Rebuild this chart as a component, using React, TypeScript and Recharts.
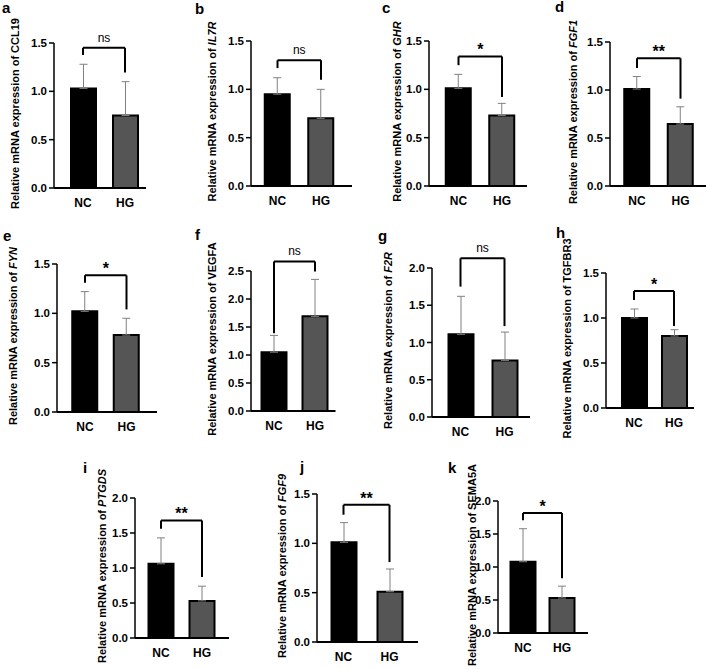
import React from "react";
import { BarChart, Bar, XAxis, YAxis, ErrorBar, Cell, ReferenceLine } from "recharts";

const FONT = '"Liberation Sans", Arial, Helvetica, sans-serif';

// panel data
const panelLetters = ["a", "b", "c", "d", "e", "f", "g", "h", "i", "j", "k"];
const genes = ["CCL19", "IL7R", "GHR", "FGF1", "FYN", "VEGFA", "F2R", "TGFBR3", "PTGDS", "FGF9", "SEMA5A"];
const geneItalic = [false, true, true, true, true, false, true, false, true, true, false];
const groups = ["NC", "HG"];
const ncMean = [1.03, 0.95, 1.01, 1.01, 1.02, 1.05, 1.11, 1.0, 1.06, 1.01, 1.08];
const hgMean = [0.75, 0.7, 0.73, 0.645, 0.78, 1.69, 0.76, 0.8, 0.53, 0.51, 0.53];
const ncSd = [0.25, 0.17, 0.145, 0.13, 0.2, 0.3, 0.51, 0.1, 0.37, 0.2, 0.5];
const hgSd = [0.35, 0.3, 0.125, 0.18, 0.17, 0.66, 0.38, 0.07, 0.21, 0.23, 0.18];
const yMax = [1.5, 1.5, 1.5, 1.5, 1.5, 2.5, 2.0, 1.5, 2.0, 1.5, 2.0];
const sigLabel = ["ns", "ns", "*", "**", "*", "ns", "ns", "*", "**", "**", "*"];
const bracketY = [1.45, 1.3, 1.34, 1.33, 1.385, 2.67, 2.13, 1.3, 1.68, 1.39, 1.82];
const bracketLeftEnd = [1.376, 1.22, 1.25, 1.23, 1.31, 1.39, 1.75, 1.2, 1.56, 1.29, 1.71];
const bracketRightEnd = [1.195, 1.1, 0.92, 0.91, 1.04, 2.49, 1.22, 0.91, 0.87, 0.81, 0.83];

const ticks15 = [0, 0.5, 1.0, 1.5];
const ticks20 = [0, 0.5, 1.0, 1.5, 2.0];
const ticks25 = [0, 0.5, 1.0, 1.5, 2.0, 2.5];

// where each panel sits on the page (px)
const LAYOUT = [
  { x0: 54, yTop: 43, y0: 188, c1: 83, c2: 125, xEnd: 142, lab: 39, lx: 2, ly: 13 },
  { x0: 251, yTop: 41, y0: 186, c1: 277.5, c2: 321, xEnd: 352, lab: 39, lx: 195, ly: 14 },
  { x0: 429, yTop: 41, y0: 186, c1: 458.5, c2: 502, xEnd: 527, lab: 32, lx: 382, ly: 13 },
  { x0: 610, yTop: 42, y0: 186, c1: 637, c2: 680.5, xEnd: 706, lab: 37, lx: 555, ly: 12 },
  { x0: 57, yTop: 264, y0: 412, c1: 85, c2: 126.5, xEnd: 157, lab: 44, lx: 3, ly: 241 },
  { x0: 251, yTop: 271, y0: 411, c1: 274, c2: 315, xEnd: 332, lab: 39, lx: 195, ly: 240 },
  { x0: 432, yTop: 268, y0: 417, c1: 460.5, c2: 504.5, xEnd: 530, lab: 44, lx: 378, ly: 241 },
  { x0: 606, yTop: 273, y0: 408, c1: 634, c2: 674, xEnd: 693, lab: 39, lx: 556, ly: 238 },
  { x0: 135, yTop: 498, y0: 638, c1: 161, c2: 202, xEnd: 229, lab: 33, lx: 83, ly: 473 },
  { x0: 317, yTop: 494, y0: 642, c1: 343.5, c2: 389.5, xEnd: 418, lab: 35, lx: 300, ly: 472 },
  { x0: 498, yTop: 501, y0: 633, c1: 523, c2: 562, xEnd: 588, lab: 26, lx: 448, ly: 473 },
];

const YW = 60;
const MT = 34;
const XH = 30;

function Panel({ i }: { i: number }) {
  const L = LAYOUT[i];
  const band = L.c2 - L.c1;
  const padL = L.c1 - L.x0 - band / 2;
  const padR = Math.max(0, L.xEnd - L.c2 - band / 2);
  const plotW = band * 2 + padL + padR;
  const width = YW + plotW + 2;
  const height = MT + (L.y0 - L.yTop) + XH;
  const ticks = yMax[i] === 2.5 ? ticks25 : yMax[i] === 2 ? ticks20 : ticks15;

  const data = groups.map((g, k) => ({
    name: g,
    mean: k === 0 ? ncMean[i] : hgMean[i],
    err: [0, k === 0 ? ncSd[i] : hgSd[i]],
  }));

  const isNs = sigLabel[i] === "ns";
  const line = { stroke: "#000", strokeWidth: 2, ifOverflow: "visible" as const };

  const yLabel = (props: any) => {
    const vb = props.viewBox || {};
    const cx = vb.x + vb.width - L.lab;
    const cy = vb.y + vb.height / 2 - 2;
    return (
      <text
        x={cx}
        y={cy}
        transform={`rotate(-90, ${cx}, ${cy})`}
        textAnchor="middle"
        dominantBaseline="central"
        style={{ fontFamily: FONT, fontSize: 11, fontWeight: 700, fill: "#000" }}
      >
        Relative mRNA expression of{" "}
        <tspan fontStyle={geneItalic[i] ? "italic" : "normal"}>{genes[i]}</tspan>
      </text>
    );
  };

  return (
    <div style={{ position: "absolute", left: L.x0 - YW, top: L.yTop - MT }}>
      <BarChart
        width={width}
        height={height}
        data={data}
        margin={{ top: MT, right: 2, bottom: 0, left: 0 }}
      >
        <XAxis
          dataKey="name"
          height={XH}
          interval={0}
          padding={{ left: padL, right: padR }}
          tickLine={false}
          tickSize={0}
          tickMargin={10}
          axisLine={{ stroke: "#000", strokeWidth: 2 }}
          tick={{ fill: "#000", fontSize: 12, fontWeight: 700, fontFamily: FONT }}
        />
        <YAxis
          width={YW}
          domain={[0, yMax[i]]}
          ticks={ticks}
          interval={0}
          tickFormatter={(v: number) => v.toFixed(1)}
          tickSize={5}
          tickMargin={2}
          tickLine={{ stroke: "#000", strokeWidth: 1.5 }}
          axisLine={{ stroke: "#000", strokeWidth: 1.5 }}
          tick={{ fill: "#000", fontSize: 11.5, fontWeight: 700, fontFamily: FONT }}
          label={{ content: yLabel }}
        />
        <Bar dataKey="mean" barSize={25} stroke="#000" strokeWidth={2} isAnimationActive={false}>
          {data.map((d, k) => (
            <Cell key={d.name} fill={k === 0 ? "#000" : "#555"} />
          ))}
          <ErrorBar dataKey="err" width={4} stroke="#808080" strokeWidth={1} direction="y" isAnimationActive={false} />
        </Bar>
        {/* significance bracket */}
        <ReferenceLine
          {...line}
          segment={[{ x: "NC", y: bracketY[i] }, { x: "HG", y: bracketY[i] }]}
          label={{
            value: sigLabel[i],
            position: "top",
            offset: isNs ? 6 : 1,
            fill: "#000",
            fontSize: isNs ? 12 : 16,
            fontWeight: isNs ? 400 : 700,
            fontFamily: FONT,
          }}
        />
        <ReferenceLine {...line} segment={[{ x: "NC", y: bracketY[i] }, { x: "NC", y: bracketLeftEnd[i] }]} />
        <ReferenceLine {...line} segment={[{ x: "HG", y: bracketY[i] }, { x: "HG", y: bracketRightEnd[i] }]} />
      </BarChart>
    </div>
  );
}

export default function App() {
  return (
    <div
      style={{
        position: "absolute",
        left: 0,
        top: 0,
        width: 708,
        height: 669,
        background: "#fff",
        overflow: "hidden",
        fontFamily: FONT,
      }}
    >
      <style>{".recharts-surface{overflow:visible}.recharts-wrapper{overflow:visible}"}</style>
      {panelLetters.map((_, i) => (
        <Panel key={i} i={i} />
      ))}
      {/* panel letters */}
      <svg width={708} height={669} style={{ position: "absolute", left: 0, top: 0, pointerEvents: "none" }}>
        {panelLetters.map((p, i) => (
          <text
            key={p}
            x={LAYOUT[i].lx}
            y={LAYOUT[i].ly}
            style={{ fontFamily: FONT, fontSize: 15, fontWeight: 700, fill: "#000" }}
          >
            {p}
          </text>
        ))}
      </svg>
    </div>
  );
}
